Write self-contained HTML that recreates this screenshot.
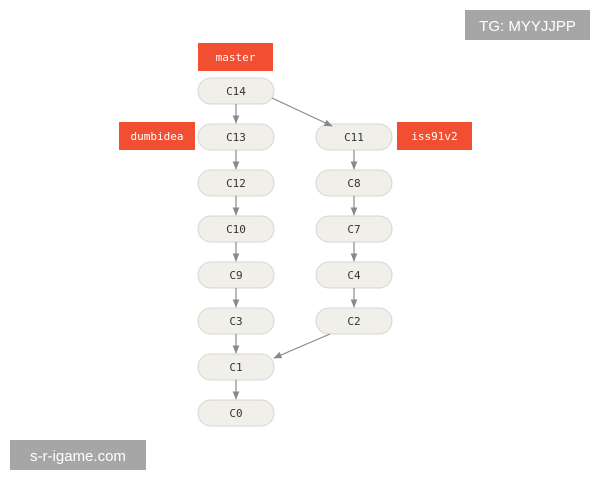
<!DOCTYPE html>
<html><head><style>
body{margin:0;width:600px;height:480px;background:#fff;position:relative;overflow:hidden}
svg{position:absolute;left:0;top:0}
</style></head><body>
<svg width="600" height="480" xmlns="http://www.w3.org/2000/svg">
<defs><marker id="a" viewBox="0 0 10 10" refX="9" refY="5" markerWidth="7" markerHeight="7" orient="auto"><path d="M0,1 L10,5 L0,9z" fill="#8a8a8a"/></marker></defs>
<g fill="#f0efea" stroke="#d6d5cf" stroke-width="1">
<rect x="198" y="78" width="76" height="26" rx="13"/>
<rect x="198" y="124" width="76" height="26" rx="13"/>
<rect x="198" y="170" width="76" height="26" rx="13"/>
<rect x="198" y="216" width="76" height="26" rx="13"/>
<rect x="198" y="262" width="76" height="26" rx="13"/>
<rect x="198" y="308" width="76" height="26" rx="13"/>
<rect x="198" y="354" width="76" height="26" rx="13"/>
<rect x="198" y="400" width="76" height="26" rx="13"/>
<rect x="316" y="124" width="76" height="26" rx="13"/>
<rect x="316" y="170" width="76" height="26" rx="13"/>
<rect x="316" y="216" width="76" height="26" rx="13"/>
<rect x="316" y="262" width="76" height="26" rx="13"/>
<rect x="316" y="308" width="76" height="26" rx="13"/>
</g>
<g stroke="#8a8a8a" stroke-width="1.2" marker-end="url(#a)">
<line x1="236" y1="104" x2="236" y2="123"/>
<line x1="236" y1="150" x2="236" y2="169"/>
<line x1="236" y1="196" x2="236" y2="215"/>
<line x1="236" y1="242" x2="236" y2="261"/>
<line x1="236" y1="288" x2="236" y2="307"/>
<line x1="236" y1="334" x2="236" y2="353"/>
<line x1="236" y1="380" x2="236" y2="399"/>
<line x1="354" y1="150" x2="354" y2="169"/>
<line x1="354" y1="196" x2="354" y2="215"/>
<line x1="354" y1="242" x2="354" y2="261"/>
<line x1="354" y1="288" x2="354" y2="307"/>
<line x1="272" y1="98" x2="332" y2="126"/>
<line x1="330" y1="334" x2="274" y2="358"/>
</g>
<g font-family="DejaVu Sans Mono, Liberation Mono, monospace" font-size="11" fill="#333" text-anchor="middle">
<text x="236" y="95">C14</text><text x="236" y="141">C13</text><text x="236" y="187">C12</text><text x="236" y="233">C10</text>
<text x="236" y="279">C9</text><text x="236" y="325">C3</text><text x="236" y="371">C1</text><text x="236" y="417">C0</text>
<text x="354" y="141">C11</text><text x="354" y="187">C8</text><text x="354" y="233">C7</text><text x="354" y="279">C4</text><text x="354" y="325">C2</text>
</g>
<g fill="#f14e32">
<rect x="198" y="43" width="75" height="28"/>
<rect x="119" y="122" width="76" height="28"/>
<rect x="397" y="122" width="75" height="28"/>
</g>
<g font-family="DejaVu Sans Mono, Liberation Mono, monospace" font-size="11" fill="#fff" text-anchor="middle">
<text x="235.5" y="61">master</text><text x="157" y="140">dumbidea</text><text x="434.5" y="140">iss91v2</text>
</g>
<rect x="465" y="10" width="125" height="30" fill="#a6a6a6"/>
<text x="527.5" y="31" font-family="Liberation Sans, sans-serif" font-size="15" fill="#fff" text-anchor="middle">TG: MYYJJPP</text>
<rect x="10" y="440" width="136" height="30" fill="#a6a6a6"/>
<text x="78" y="461" font-family="Liberation Sans, sans-serif" font-size="15" fill="#fff" text-anchor="middle">s-r-igame.com</text>
</svg>
</body></html>
